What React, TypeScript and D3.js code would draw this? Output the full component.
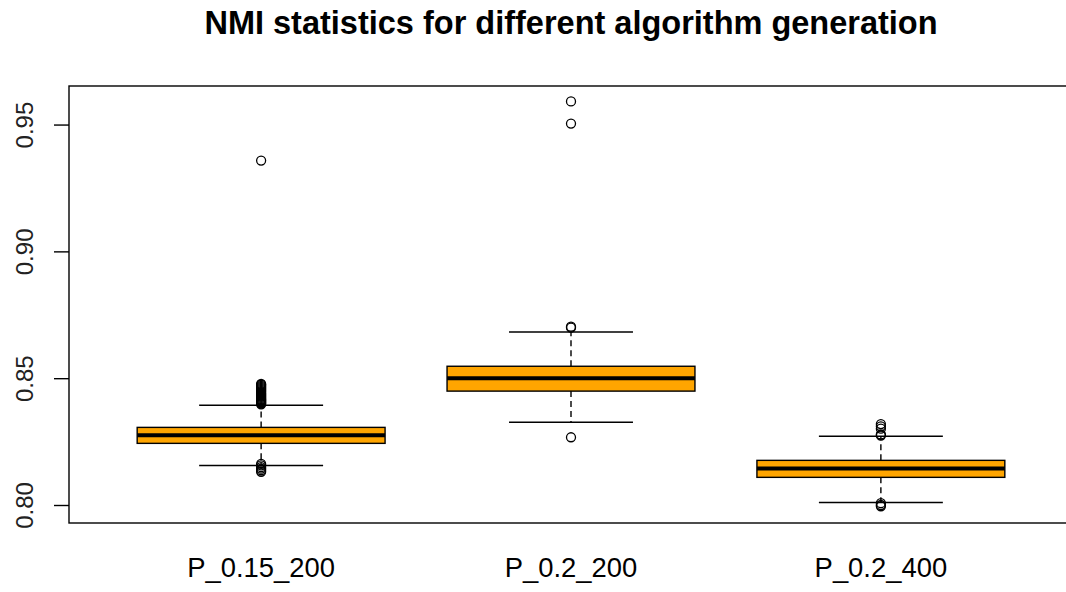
import React from 'react';
import * as d3 from 'd3';

const categories = ['P_0.15_200', 'P_0.2_200', 'P_0.2_400'];

// five-number summaries: lower whisker, Q1, median, Q3, upper whisker
const lowerWhisker = [0.8158, 0.8328, 0.8012];
const q1 = [0.8245, 0.8451, 0.8111];
const median = [0.8277, 0.8502, 0.8146];
const q3 = [0.8308, 0.8549, 0.8178];
const upperWhisker = [0.8395, 0.8684, 0.8273];

const outliers = [
  [0.936, 0.8399, 0.8402, 0.8405, 0.8408, 0.8411, 0.8414, 0.8417, 0.8420, 0.8424, 0.8428,
    0.8432, 0.8436, 0.8440, 0.8444, 0.8448, 0.8452, 0.8456, 0.8460, 0.8464, 0.8468,
    0.8472, 0.8476, 0.8479, 0.8164, 0.8158, 0.8151, 0.8145, 0.8139, 0.8133],
  [0.9593, 0.9506, 0.8705, 0.8701, 0.8269],
  [0.8321, 0.8312, 0.8303, 0.8280, 0.8276, 0.8009, 0.8002, 0.7997],
];

const yTicks = [0.8, 0.85, 0.9, 0.95];

const W = 1066;
const H = 592;
const plot = { left: 69, right: 1073, top: 86, bottom: 523 };

export default function App() {
  const x = d3.scaleLinear().domain([0.38, 3.62]).range([plot.left, plot.right]);
  const y = d3.scaleLinear().domain([0.7931, 0.9654]).range([plot.bottom, plot.top]);
  const unit = x(2) - x(1);
  const boxHalf = unit * 0.4;
  const capHalf = unit * 0.2;
  const font = 'Liberation Sans, Arial, sans-serif';

  return (
    <svg width={W} height={H} style={{ position: 'absolute', left: 0, top: 0, background: '#fff' }}>
      <text x={(plot.left + plot.right) / 2} y={34} textAnchor="middle" fontFamily={font}
        fontWeight="bold" fontSize={32.5}>
        NMI statistics for different algorithm generation
      </text>

      {categories.map((c, i) => {
        const cx = x(i + 1);
        return (
          <g key={c}>
            {/* whiskers */}
            <line x1={cx} x2={cx} y1={y(q3[i])} y2={y(upperWhisker[i])} stroke="#000"
              strokeWidth={1.4} strokeDasharray="6 4" />
            <line x1={cx} x2={cx} y1={y(q1[i])} y2={y(lowerWhisker[i])} stroke="#000"
              strokeWidth={1.4} strokeDasharray="6 4" />
            <line x1={cx - capHalf} x2={cx + capHalf} y1={y(upperWhisker[i])} y2={y(upperWhisker[i])}
              stroke="#000" strokeWidth={1.4} />
            <line x1={cx - capHalf} x2={cx + capHalf} y1={y(lowerWhisker[i])} y2={y(lowerWhisker[i])}
              stroke="#000" strokeWidth={1.4} />
            {/* box */}
            <rect x={cx - boxHalf} y={y(q3[i])} width={boxHalf * 2} height={y(q1[i]) - y(q3[i])}
              fill="#FFA500" stroke="#000" strokeWidth={1.4} />
            <line x1={cx - boxHalf} x2={cx + boxHalf} y1={y(median[i])} y2={y(median[i])}
              stroke="#000" strokeWidth={4} />
            {outliers[i].map((v, j) => (
              <circle key={j} cx={cx} cy={y(v)} r={4.5} fill="none" stroke="#000" strokeWidth={1.3} />
            ))}
            <text x={cx} y={577} textAnchor="middle" fontFamily={font} fontSize={27.4}>{c}</text>
          </g>
        );
      })}

      {/* frame */}
      <rect x={plot.left} y={plot.top} width={plot.right - plot.left} height={plot.bottom - plot.top}
        fill="none" stroke="#000" strokeWidth={1.4} />

      {/* y axis */}
      {yTicks.map(t => (
        <g key={t} transform={`translate(0,${y(t)})`}>
          <line x1={54} x2={plot.left} stroke="#000" strokeWidth={1.4} />
          <text transform="translate(33,0) rotate(-90)" textAnchor="middle" fontFamily={font}
            fontSize={24} fill="#222">
            {d3.format('.2f')(t)}
          </text>
        </g>
      ))}
    </svg>
  );
}
